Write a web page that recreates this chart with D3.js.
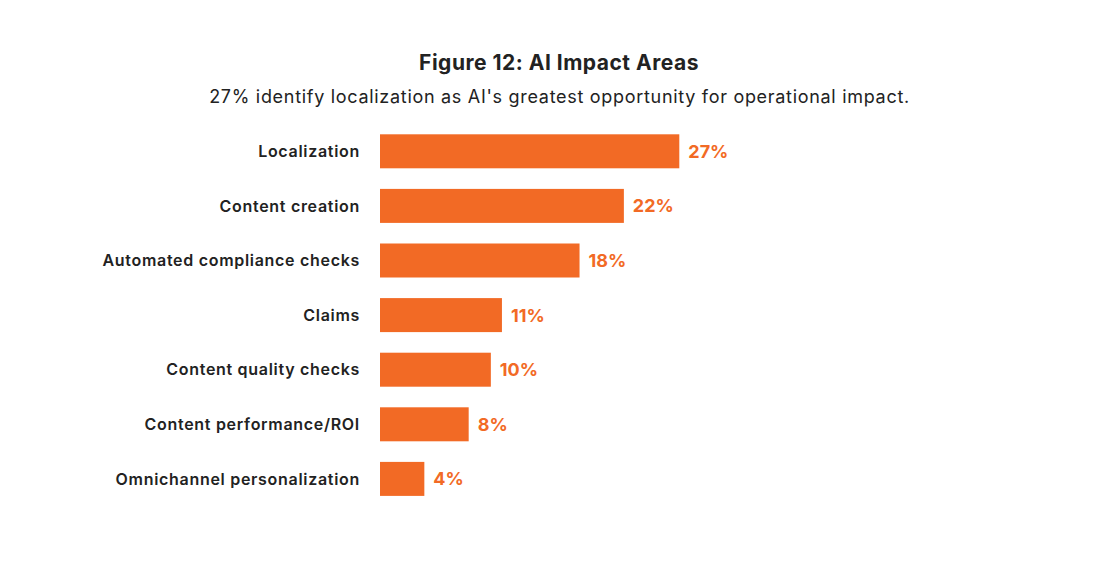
<!DOCTYPE html>
<html><head><meta charset="utf-8">
<script src="https://cdn.jsdelivr.net/npm/d3@7"></script>
<style>body{margin:0;background:#fff;} text{font-family:Inter, "Open Sans", sans-serif;}</style>
</head><body>
<svg id="c" width="1117" height="571"></svg>
<script>
const categories = ["Localization","Content creation","Automated compliance checks","Claims","Content quality checks","Content performance/ROI","Omnichannel personalization"];
const values = [27,22,18,11,10,8,4];
const title = "Figure 12: AI Impact Areas";
const subtitle = "27% identify localization as AI's greatest opportunity for operational impact.";

const svg = d3.select("#c");
const orange = "#F26A25";
const x = d3.scaleLinear().domain([0,27]).range([380,679.3]);
const y = d3.scaleBand().domain(categories)
  .range([134.3, 134.3 + 54.6*6 + 34]).paddingInner((54.6-34)/54.6).paddingOuter(0);

svg.append("text").attr("x",559).attr("y",70).attr("text-anchor","middle")
  .attr("font-size",21).attr("font-weight",700).attr("letter-spacing",0.5).attr("fill","#222").text(title);
svg.append("text").attr("x",559.5).attr("y",103).attr("text-anchor","middle")
  .attr("font-size",18).attr("font-weight",400).attr("letter-spacing",0.7).attr("fill","#222").text(subtitle);

const g = svg.append("g");
g.selectAll("rect").data(values).join("rect")
  .attr("x",x(0)).attr("y",(d,i)=>y(categories[i]))
  .attr("width",d=>x(d)-x(0)).attr("height",y.bandwidth()).attr("fill",orange);
g.selectAll("text.v").data(values).join("text").attr("class","v")
  .attr("x",d=>x(d)+9).attr("y",(d,i)=>y(categories[i])+y.bandwidth()/2)
  .attr("dy","0.36em").attr("font-size",18).attr("font-weight",700).attr("fill",orange)
  .text(d=>d+"%");
g.selectAll("text.c").data(categories).join("text").attr("class","c")
  .attr("x",360).attr("y",d=>y(d)+y.bandwidth()/2).attr("dy","0.36em")
  .attr("text-anchor","end").attr("font-size",16).attr("font-weight",600).attr("letter-spacing",0.7).attr("fill","#222")
  .text(d=>d);
</script>
</body></html>
